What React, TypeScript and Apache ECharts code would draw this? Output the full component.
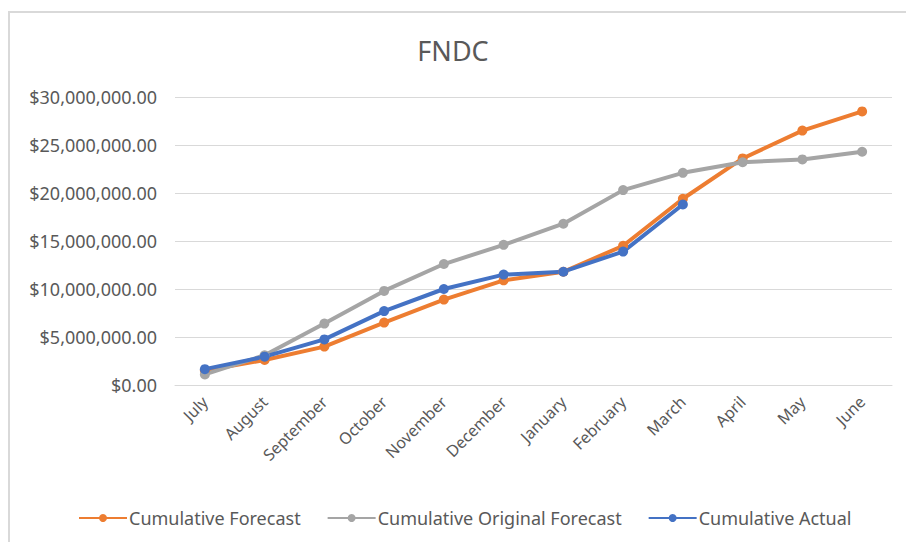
import React, { useEffect, useRef } from "react";
import * as echarts from "echarts";

const months = ["July", "August", "September", "October", "November", "December", "January", "February", "March", "April", "May", "June"];
const cumulativeForecast = [1500000, 2600000, 4000000, 6500000, 8900000, 10900000, 11800000, 14500000, 19400000, 23600000, 26500000, 28500000];
const cumulativeOriginalForecast = [1100000, 3100000, 6400000, 9800000, 12600000, 14600000, 16800000, 20300000, 22100000, 23200000, 23500000, 24300000];
const cumulativeActual = [1650000, 2950000, 4750000, 7700000, 10000000, 11500000, 11800000, 13900000, 18800000, null, null, null];

const FONT = "'Noto Sans', 'Open Sans', sans-serif";
const TEXT = "#595959";

function fmt(v: number) {
  return "$" + v.toLocaleString("en-US", { minimumFractionDigits: 2, maximumFractionDigits: 2 });
}

export default function App() {
  const ref = useRef<HTMLDivElement>(null);
  useEffect(() => {
    if (!ref.current) return;
    const chart = echarts.init(ref.current, null, { renderer: "svg" });
    const mk = (name: string, data: (number | null)[], color: string) => ({
      name,
      type: "line",
      data,
      symbol: "circle",
      symbolSize: 10,
      showSymbol: true,
      connectNulls: false,
      lineStyle: { color, width: 4 },
      itemStyle: { color },
    });
    chart.setOption({
      animation: false,
      backgroundColor: "#ffffff",
      title: {
        text: "FNDC",
        left: "center",
        top: 32,
        textStyle: { fontFamily: FONT, fontSize: 27, fontWeight: "normal", color: TEXT },
      },
      graphic: [
        {
          type: "rect",
          shape: { x: 9, y: 12, width: 1200, height: 1200 },
          style: { fill: "none", stroke: "#d9d9d9", lineWidth: 2 },
          silent: true,
        },
      ],
      legend: {
        bottom: 15,
        left: 78,
        padding: 0,
        itemWidth: 48,
        itemHeight: 10,
        itemGap: 26,
        textStyle: { fontFamily: FONT, fontSize: 18, color: TEXT, padding: [0, 0, 0, -3] },
        data: ["Cumulative Forecast", "Cumulative Original Forecast", "Cumulative Actual"],
      },
      grid: { left: 175, right: 14, top: 97, bottom: 157 },
      xAxis: {
        type: "category",
        data: months,
        boundaryGap: true,
        axisLine: { show: true, lineStyle: { color: "#d9d9d9", width: 1 } },
        axisTick: { show: false },
        axisLabel: { rotate: 45, margin: 14, fontFamily: FONT, fontSize: 16, color: TEXT, interval: 0 },
      },
      yAxis: {
        type: "value",
        min: 0,
        max: 30000000,
        interval: 5000000,
        axisLine: { show: false },
        axisTick: { show: false },
        splitLine: { lineStyle: { color: "#d9d9d9", width: 1 } },
        axisLabel: { formatter: (v: number) => fmt(v), margin: 18, fontFamily: FONT, fontSize: 18, color: TEXT },
      },
      series: [
        mk("Cumulative Forecast", cumulativeForecast, "#ED7D31"),
        mk("Cumulative Original Forecast", cumulativeOriginalForecast, "#A5A5A5"),
        mk("Cumulative Actual", cumulativeActual, "#4472C4"),
      ],
    });
    return () => chart.dispose();
  }, []);
  return <div ref={ref} style={{ position: "absolute", left: 0, top: 0, width: 906, height: 542 }} />;
}
